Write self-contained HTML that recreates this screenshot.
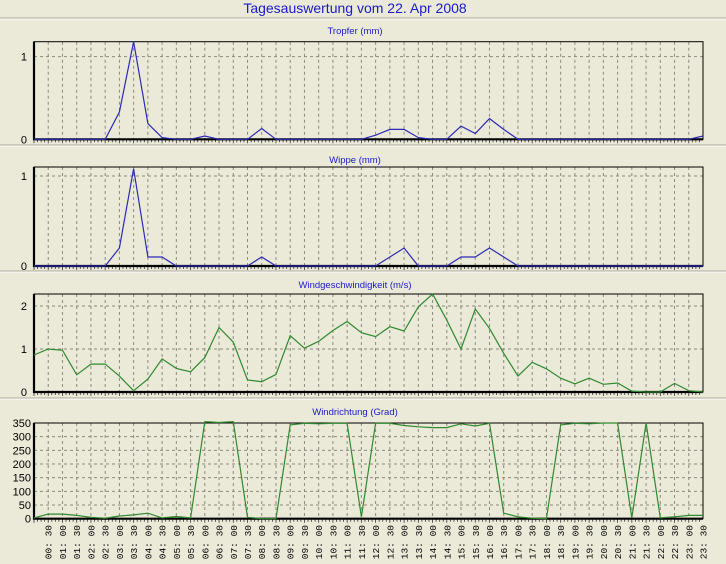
<!DOCTYPE html>
<html><head><meta charset="utf-8"><style>
html,body{margin:0;padding:0;background:#ebe9d8;}
svg{display:block;font-family:"Liberation Sans",sans-serif;}
</style></head><body>
<svg id="c" width="726" height="564" viewBox="0 0 726 564">
<rect x="0" y="0" width="726" height="564" fill="#ebe9d8"/>
<text x="355" y="13" text-anchor="middle" font-size="14" fill="#1a1acc">Tagesauswertung vom 22. Apr 2008</text>
</svg>
<script>
const times = ["00:30","01:00","01:30","02:00","02:30","03:00","03:30","04:00","04:30","05:00","05:30","06:00","06:30","07:00","07:30","08:00","08:30","09:00","09:30","10:00","10:30","11:00","11:30","12:00","12:30","13:00","13:30","14:00","14:30","15:00","15:30","16:00","16:30","17:00","17:30","18:00","18:30","19:00","19:30","20:00","20:30","21:00","21:30","22:00","22:30","23:00","23:30"];
const tropfer = [0,0,0,0,0,0,0.33,1.18,0.19,0.02,0,0,0.04,0,0,0,0.13,0,0,0,0,0,0,0,0.05,0.12,0.12,0.02,0,0,0.16,0.07,0.25,0.12,0,0,0,0,0,0,0,0,0,0,0,0,0,0.04];
const wippe = [0,0,0,0,0,0,0.2,1.08,0.1,0.1,0,0,0,0,0,0,0.1,0,0,0,0,0,0,0,0,0.1,0.2,0,0,0,0.1,0.1,0.2,0.1,0,0,0,0,0,0,0,0,0,0,0,0,0,0];
const windSpeed = [0.86,1.0,0.97,0.4,0.65,0.65,0.37,0.03,0.3,0.77,0.55,0.47,0.8,1.5,1.16,0.28,0.24,0.41,1.31,1.02,1.18,1.43,1.64,1.38,1.29,1.52,1.42,1.98,2.28,1.67,1.0,1.93,1.48,0.9,0.37,0.69,0.54,0.32,0.19,0.32,0.18,0.21,0.02,0,0,0.2,0.03,0];
const windDir = [3,17,17,12,5,2,10,14,20,3,8,3,355,352,355,5,0,0,343,349,347,349,349,7,349,349,341,336,333,333,347,339,349,20,7,2,0,343,349,347,350,350,3,350,3,7,12,12];
const panelTitles = ["Tropfer (mm)","Wippe (mm)","Windgeschwindigkeit (m/s)","Windrichtung (Grad)"];
const yTicks1 = [0,1];
const yTicks2 = [0,1];
const yTicks3 = [0,1,2];
const yTicks4 = [0,50,100,150,200,250,300,350];

const NS="http://www.w3.org/2000/svg";
const svg=document.getElementById('c');
function mk(tag,attrs,parent){const e=document.createElementNS(NS,tag);for(const k in attrs)e.setAttribute(k,attrs[k]);(parent||svg).appendChild(e);return e;}
const X0=34,X1=703,N=47;
function xs(i){return X0+(X1-X0)*i/N;}

[18,145,271,398].forEach(function(y){
  const l=mk('line',{x1:0,x2:726,y1:y,y2:y,stroke:'#aca899','stroke-width':1});
  
  
  const l2=mk('line',{x1:0,x2:726,y1:y+1,y2:y+1,stroke:'#ffffff','stroke-width':1});
  
  
});

const panels=[
 {key:'tropfer',data:tropfer,ticks:yTicks1,max:1.18,top:41.7,bot:139.3,ty:31,color:'#2a2ab8',lx:27},
 {key:'wippe',data:wippe,ticks:yTicks2,max:1.1,top:167,bot:266,ty:160,color:'#2a2ab8',lx:27},
 {key:'windgeschwindigkeit',data:windSpeed,ticks:yTicks3,max:2.28,top:294,bot:392,ty:285,color:'#2f8a2f',lx:27},
 {key:'windrichtung',data:windDir,ticks:yTicks4,max:350,top:423,bot:518.7,ty:412,color:'#2f8a2f',lx:31}
];

panels.forEach(function(p,pi){
  const g=mk('g',{});
  
  
  function ys(v){return p.bot-(p.bot-p.top)*v/p.max;}
  const t=mk('text',{x:355,y:p.ty+3,'text-anchor':'middle','font-size':9.5,fill:'#1a1acc'},g);
  t.textContent=panelTitles[pi];
  
  
  for(let i=1;i<N;i++){
    const l=mk('line',{x1:xs(i),x2:xs(i),y1:p.top,y2:p.bot,stroke:'#8a8a80','stroke-width':1,'stroke-dasharray':'3,3'},g);
    
    
  }
  p.ticks.forEach(function(v){
    const y=ys(v);
    if(v>0){
      const l=mk('line',{x1:X0,x2:X1,y1:y,y2:y,stroke:'#8a8a80','stroke-width':1,'stroke-dasharray':'3,3'},g);
      
      
    }
    const tx=mk('text',{x:p.lx,y:y+4,'text-anchor':'end','font-size':11,fill:'#000'},g);
    tx.textContent=String(v);
    
    
  });
  for(let i=0;i<N*4;i++){
    const x=X0+(X1-X0)*i/(N*4);
    const l=mk('line',{x1:x,x2:x,y1:p.bot,y2:p.bot+(i%4==0?4:3),stroke:'#333','stroke-width':0.8},g);
    
    
  }
  const fr=mk('rect',{x:X0,y:p.top,width:X1-X0,height:p.bot-p.top,fill:'none',stroke:'#000','stroke-width':1},g);
  
  
  const ax=mk('polyline',{points:X0+','+p.top+' '+X0+','+p.bot+' '+X1+','+p.bot,fill:'none',stroke:'#000','stroke-width':2.2},g);
  
  
  const pts=p.data.map(function(v,i){return xs(i).toFixed(1)+','+ys(v).toFixed(1);}).join(' ');
  const line=mk('polyline',{points:pts,fill:'none',stroke:p.color,'stroke-width':1.2},g);
  
  
});

times.forEach(function(t,i){
  const x=xs(i+1);
  const tx=mk('text',{x:0,y:0,'text-anchor':'end','font-size':9.5,'font-family':'"Liberation Mono",monospace',fill:'#000',transform:'translate('+(x+3.5)+',525) rotate(-90)'});
  tx.textContent=t.replace(':',': ');
  
  
});
</script>
</body></html>
